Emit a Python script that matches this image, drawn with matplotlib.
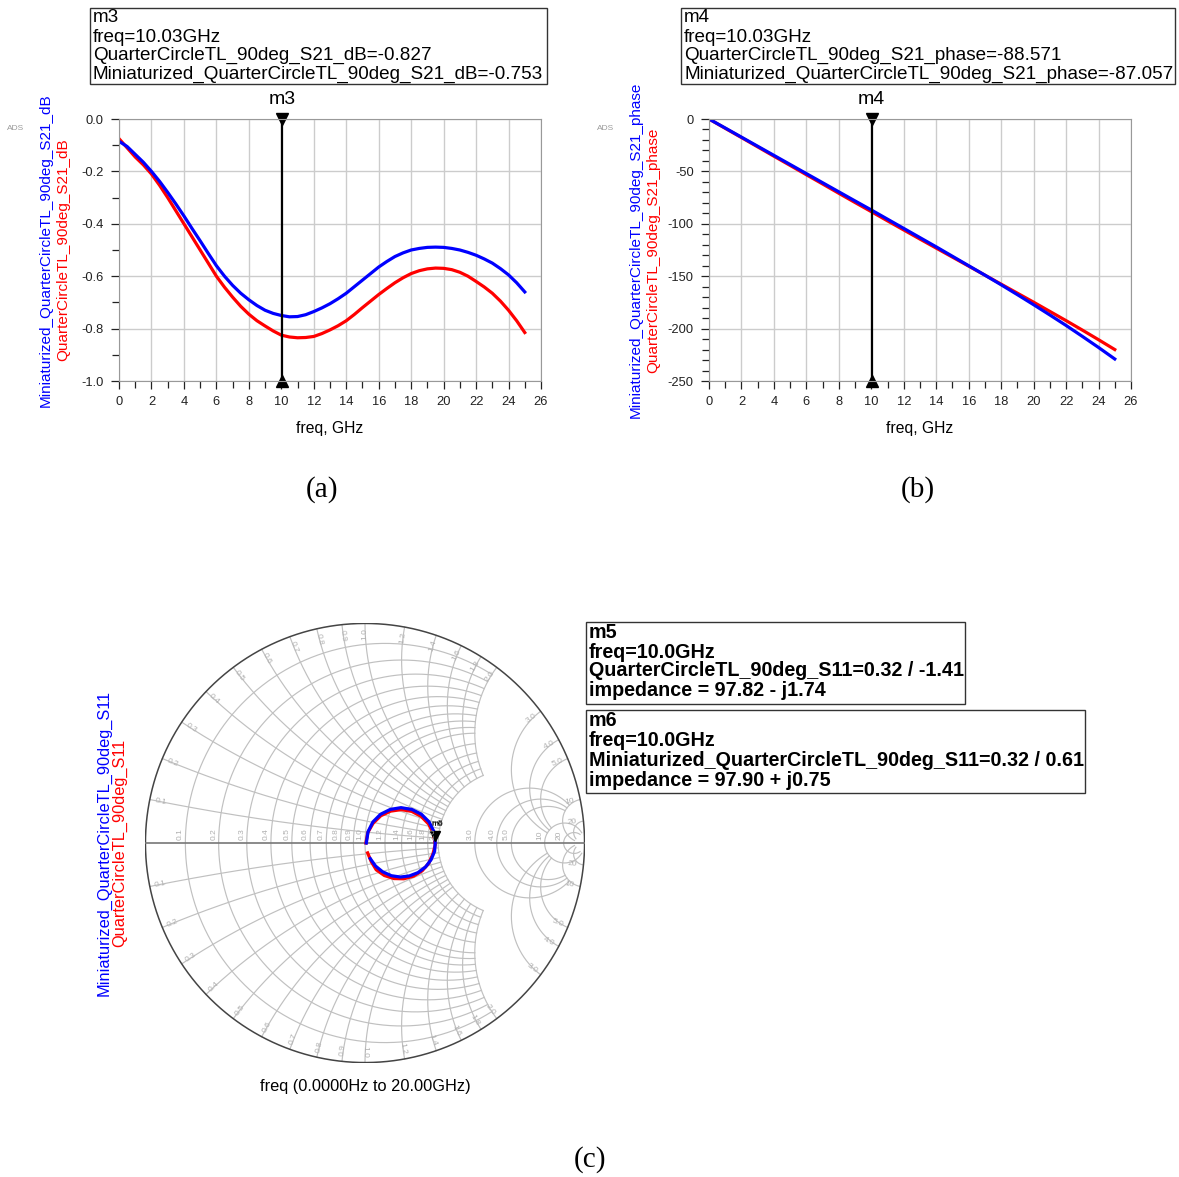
import numpy as np
import matplotlib
matplotlib.use('Agg')
import matplotlib.pyplot as plt
from matplotlib.patches import Rectangle

plt.rcParams['font.family'] = ['Liberation Sans', 'DejaVu Sans']

# S21 magnitude (dB), every 0.5 GHz
freq_db = [i * 0.5 for i in range(51)]
mini_s21_db = [-0.085, -0.105, -0.135, -0.165, -0.20, -0.238, -0.28, -0.324, -0.37, -0.418,
               -0.465, -0.513, -0.56, -0.60, -0.635, -0.665, -0.69, -0.712, -0.73, -0.742,
               -0.75, -0.755, -0.754, -0.747, -0.735, -0.721, -0.705, -0.686, -0.665, -0.64,
               -0.615, -0.59, -0.565, -0.544, -0.525, -0.511, -0.50, -0.494, -0.49, -0.489,
               -0.49, -0.494, -0.50, -0.509, -0.52, -0.534, -0.55, -0.571, -0.595, -0.625,
               -0.66]
qc_s21_db = [-0.075, -0.11, -0.145, -0.175, -0.21, -0.253, -0.30, -0.35, -0.40, -0.45,
             -0.50, -0.55, -0.60, -0.642, -0.68, -0.715, -0.745, -0.77, -0.79, -0.809,
             -0.825, -0.832, -0.835, -0.834, -0.83, -0.819, -0.805, -0.789, -0.77, -0.746,
             -0.72, -0.695, -0.67, -0.647, -0.625, -0.606, -0.59, -0.579, -0.572, -0.569,
             -0.57, -0.575, -0.585, -0.60, -0.62, -0.641, -0.665, -0.695, -0.73, -0.77,
             -0.815]

# S21 phase (deg), panel (b), every 1 GHz
freq_ph = list(range(0, 26))
mini_s21_phase = [0, -8.6, -17.3, -26.0, -34.7, -43.4, -52.1, -60.8, -69.5, -78.2,
                  -86.8, -95.6, -104.4, -113.2, -122.0, -131.0, -140.0, -149.0, -158.2, -167.6,
                  -177.2, -187.0, -197.0, -207.4, -218.0, -229.0]
qc_s21_phase = [0, -8.9, -17.7, -26.6, -35.5, -44.3, -53.2, -62.0, -70.9, -79.7,
                -88.4, -97.2, -105.9, -114.6, -123.2, -131.8, -140.4, -149.0, -157.6, -166.2,
                -174.8, -183.6, -192.4, -201.4, -210.6, -220.0]

# S11 on the Smith chart, 0..20 GHz in 1 GHz steps (real, imag of reflection coeff.)
mini_s11_re = [0.006, 0.014, 0.036, 0.071, 0.115, 0.164, 0.213, 0.257, 0.292, 0.314, 0.320,
               0.317, 0.301, 0.276, 0.241, 0.202, 0.161, 0.120, 0.080, 0.048, 0.024]
mini_s11_im = [0.000, 0.052, 0.096, 0.131, 0.153, 0.161, 0.153, 0.131, 0.096, 0.052, 0.003,
               -0.038, -0.076, -0.109, -0.135, -0.150, -0.155, -0.149, -0.131, -0.105, -0.071]
qc_s11_re = [0.004, 0.013, 0.037, 0.072, 0.116, 0.165, 0.213, 0.256, 0.290, 0.312, 0.320,
             0.309, 0.290, 0.260, 0.221, 0.177, 0.132, 0.088, 0.051, 0.028, 0.012]
qc_s11_im = [0.000, 0.048, 0.090, 0.124, 0.145, 0.152, 0.144, 0.121, 0.086, 0.042, -0.008,
             -0.051, -0.093, -0.127, -0.151, -0.163, -0.162, -0.148, -0.122, -0.084, -0.045]

W, H = 1179, 1177
fig = plt.figure(figsize=(W / 100, H / 100), dpi=100)


def fx(x):
    return x / W


def fy(y):
    return 1 - y / H


def marker_box(x0, y0, x1, y1, lines, ys, size, bold=False):
    fig.add_artist(Rectangle((fx(x0), fy(y1)), fx(x1) - fx(x0), fy(y0) - fy(y1),
                             transform=fig.transFigure, fill=False, ec='#333333', lw=1))
    for s, y in zip(lines, ys):
        fig.text(fx(x0 + 3), fy(y), s, fontsize=size, va='center', ha='left',
                 fontweight='bold' if bold else 'normal')


def rect_panel(left, xs, ydata_b, ydata_r, ylim, ymaj, ymin, yfmt, mk, ylab_b, ylab_r):
    ax = fig.add_axes([fx(left), fy(381), 422 / W, 262 / H])
    ax.plot(xs, ydata_r, color='#ff0000', lw=2.3)
    ax.plot(xs, ydata_b, color='#0000ff', lw=2.3)
    ax.set_xlim(0, 26)
    ax.set_ylim(*ylim)
    ax.set_xticks(range(0, 27, 2))
    ax.set_xticks(range(0, 27), minor=True)
    yt = np.arange(ylim[0], ylim[1] + 1e-9, ymaj)
    ax.set_yticks(yt)
    ax.set_yticks(np.arange(ylim[0], ylim[1] + 1e-9, ymin), minor=True)
    ax.set_yticklabels([yfmt.format(round(v, 6) + 0.0) for v in yt])
    ax.grid(True, which='major', color='#cccccc', lw=1)
    for s in ax.spines.values():
        s.set_color('#999999')
    ax.tick_params(which='both', direction='out', colors='#222222', labelsize=9.3, width=0.9)
    ax.tick_params(which='major', length=6, pad=5)
    ax.tick_params(which='minor', length=5)
    ax.axvline(10.03, color='black', lw=1.6)
    ax.plot([10.03], [ylim[1]], marker='v', ms=8, color='black', clip_on=False)
    ax.plot([10.03], [ylim[0]], marker='^', ms=8, color='black', clip_on=False)
    xm = left + 10.03 / 26 * 422
    fig.text(fx(xm), fy(100), mk, fontsize=14, ha='center', va='center')
    fig.text(fx(left + 211), fy(429), 'freq, GHz', fontsize=11.3, ha='center', va='center')
    fig.text(fx(left - 73), fy(250), ylab_b, color='#0000ff', fontsize=11,
             rotation=90, ha='center', va='center')
    fig.text(fx(left - 56), fy(250), ylab_r, color='#ff0000', fontsize=11,
             rotation=90, ha='center', va='center')
    fig.text(fx(left - 112), fy(128), 'ADS', fontsize=6, color='#999999', ha='left', va='center')
    return ax


# panel (a)
rect_panel(119, freq_db, mini_s21_db, qc_s21_db, (-1.0, 0.0), 0.2, 0.1, '{:.1f}', 'm3',
           'Miniaturized_QuarterCircleTL_90deg_S21_dB', 'QuarterCircleTL_90deg_S21_dB')
marker_box(90, 8, 547, 84,
           ['m3', 'freq=10.03GHz', 'QuarterCircleTL_90deg_S21_dB=-0.827',
            'Miniaturized_QuarterCircleTL_90deg_S21_dB=-0.753'],
           [18, 37, 55, 74], 13.6)

# panel (b)
rect_panel(709, freq_ph, mini_s21_phase, qc_s21_phase, (-250, 0), 50, 10, '{:.0f}', 'm4',
           'Miniaturized_QuarterCircleTL_90deg_S21_phase', 'QuarterCircleTL_90deg_S21_phase')
marker_box(681, 8, 1175, 84,
           ['m4', 'freq=10.03GHz', 'QuarterCircleTL_90deg_S21_phase=-88.571',
            'Miniaturized_QuarterCircleTL_90deg_S21_phase=-87.057'],
           [18, 37, 55, 74], 13.6)

# panel (c): Smith chart
sx = fig.add_axes([fx(145), fy(1063), 440 / W, 440 / H])
sx.set_xlim(-1.002, 1.002)
sx.set_ylim(-1.002, 1.002)
sx.axis('off')


def z2g(z):
    return (z - 1) / (z + 1)


def clip_of(v):
    return 2 if v <= 2 else (10 if v <= 5 else 40)


grid_vals = [0.1, 0.2, 0.3, 0.4, 0.5, 0.6, 0.7, 0.8, 0.9, 1.0, 1.2, 1.4, 1.6, 1.8, 2.0,
             3.0, 4.0, 5.0, 10, 20]
gcol = '#c0c0c0'
for v in grid_vals:
    lim = clip_of(v)
    t = np.linspace(-np.arctan(lim), np.arctan(lim), 600)
    g = z2g(v + 1j * np.tan(t))
    sx.plot(g.real, g.imag, color=gcol, lw=0.85)
    t = np.linspace(0, np.arctan(lim), 600)
    for sgn in (1, -1):
        g = z2g(np.tan(t) + 1j * sgn * v)
        sx.plot(g.real, g.imag, color=gcol, lw=0.85)

lab_col = '#b0b0b0'
for v in grid_vals:
    txt = '{:.1f}'.format(v) if v < 10 else '{:.0f}'.format(v)
    gr = (v - 1) / (v + 1)
    sx.text(gr - 0.006, 0.012, txt, rotation=90, fontsize=6, color=lab_col,
            ha='right', va='bottom')
    for sgn in (1, -1):
        g = z2g(1j * sgn * v)
        ang = np.degrees(np.angle(g))
        rot = ang if -90 <= ang <= 90 else ang - 180 if ang > 0 else ang + 180
        p = 0.95 * g
        sx.text(p.real, p.imag, txt, rotation=rot, fontsize=6, color=lab_col,
                ha='center', va='center', rotation_mode='anchor')

th = np.linspace(0, 2 * np.pi, 800)
sx.plot(np.cos(th), np.sin(th), color='#444444', lw=1.1)
sx.plot([-1, 1], [0, 0], color='#777777', lw=1.2)

sx.plot(qc_s11_re, qc_s11_im, color='#ff0000', lw=2.3)
sx.plot(mini_s11_re, mini_s11_im, color='#0000ff', lw=2.3)
sx.plot([mini_s11_re[10]], [mini_s11_im[10] + 0.03], marker='v', ms=7, color='black')
sx.text(mini_s11_re[10] + 0.01, mini_s11_im[10] + 0.085, 'm5', fontsize=6, color='#333333',
        ha='center', va='center')
sx.text(mini_s11_re[10] + 0.01, mini_s11_im[10] + 0.08, 'm6', fontsize=6, color='black',
        ha='center', va='center')

fig.text(fx(104), fy(843), 'Miniaturized_QuarterCircleTL_90deg_S11', color='#0000ff',
         fontsize=11.8, rotation=90, ha='center', va='center')
fig.text(fx(120), fy(843), 'QuarterCircleTL_90deg_S11', color='#ff0000',
         fontsize=11.8, rotation=90, ha='center', va='center')
fig.text(fx(365), fy(1086), 'freq (0.0000Hz to 20.00GHz)', fontsize=11.8,
         ha='center', va='center')

marker_box(586, 622, 965, 704,
           ['m5', 'freq=10.0GHz', 'QuarterCircleTL_90deg_S11=0.32 / -1.41',
            'impedance = 97.82 - j1.74'],
           [632, 652, 671, 691], 14.2, bold=True)
marker_box(586, 710, 1085, 793,
           ['m6', 'freq=10.0GHz', 'Miniaturized_QuarterCircleTL_90deg_S11=0.32 / 0.61',
            'impedance = 97.90 + j0.75'],
           [721, 741, 760, 780], 14.2, bold=True)

# captions
for s, x, y in [('(a)', 322, 490), ('(b)', 918, 490), ('(c)', 590, 1160)]:
    fig.text(fx(x), fy(y), s, fontsize=21, family='Liberation Serif', ha='center', va='center')

fig.savefig('out.png', dpi=100)
